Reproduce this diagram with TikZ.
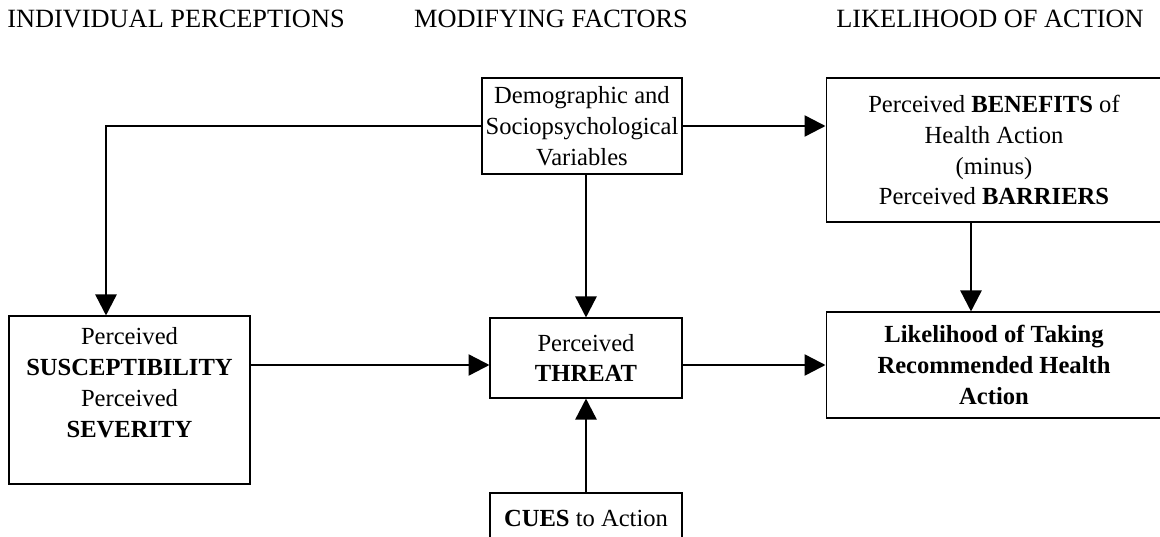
\documentclass[tikz,border=0pt]{standalone}
\usepackage{fontspec}
\setmainfont{Liberation Serif}
\usepackage{tikz}
\usetikzlibrary{arrows.meta}
\newcommand{\boxfont}{\fontsize{14}{17.6}\selectfont}
\tikzset{
  box/.style={draw,line width=0.6pt,align=center,inner sep=0pt},
  heading/.style={anchor=base,font=\fontsize{15}{18}\selectfont},
  flow/.style={line width=1.4pt,-{Triangle[length=0.42cm,width=0.42cm]}}
}

\begin{document}
\begin{tikzpicture}[x=0.02cm,y=-0.02cm,every node/.append style={font=\boxfont}]
\clip (0,0) rectangle (1160,537);
\node[heading] (h1) at (176,28){INDIVIDUAL PERCEPTIONS};
\node[heading] (h2) at (551,28){MODIFYING FACTORS};
\node[heading] (h3) at (990,28){LIKELIHOOD OF ACTION};
\node[box,minimum width=4cm,minimum height=1.92cm] (demo) at (582,126){Demographic and\\Sociopsychological\\Variables};
\node[box,minimum width=6.72cm,minimum height=2.88cm] (benefits) at (994,150){Perceived \textbf{BENEFITS} of\\Health Action\\(minus)\\Perceived \textbf{BARRIERS}};
\node[box,minimum width=4.82cm,minimum height=3.36cm] (susc) at (129.5,400){};
\node[align=center] (susctext) at (129.5,383){Perceived\\\textbf{SUSCEPTIBILITY}\\Perceived\\\textbf{SEVERITY}};
\node[box,minimum width=3.84cm,minimum height=1.6cm] (threat) at (586,358){Perceived\\\textbf{THREAT}};
\node[box,minimum width=6.72cm,minimum height=2.12cm] (likely) at (994,365){\textbf{Likelihood of Taking}\\\textbf{Recommended Health}\\\textbf{Action}};
\node[box,minimum width=3.84cm,minimum height=1cm] (cues) at (586,518){\textbf{CUES} to Action};
\coordinate (bend) at (106,126);
\coordinate (mid) at (0,365);
\coordinate (bx) at (971,0);
\draw[flow] (demo.east) -- (demo.east -| benefits.west);
\draw[flow] (demo.west) -- (bend) -- (bend |- susc.north);
\draw[flow] (demo.south -| threat.north) -- (threat.north);
\draw[flow] (benefits.south -| bx) -- (likely.north -| bx);
\draw[flow] (susc.east |- mid) -- (threat.west |- mid);
\draw[flow] (threat.east |- mid) -- (likely.west |- mid);
\draw[flow] (cues.north) -- (threat.south);
\end{tikzpicture}
\end{document}
